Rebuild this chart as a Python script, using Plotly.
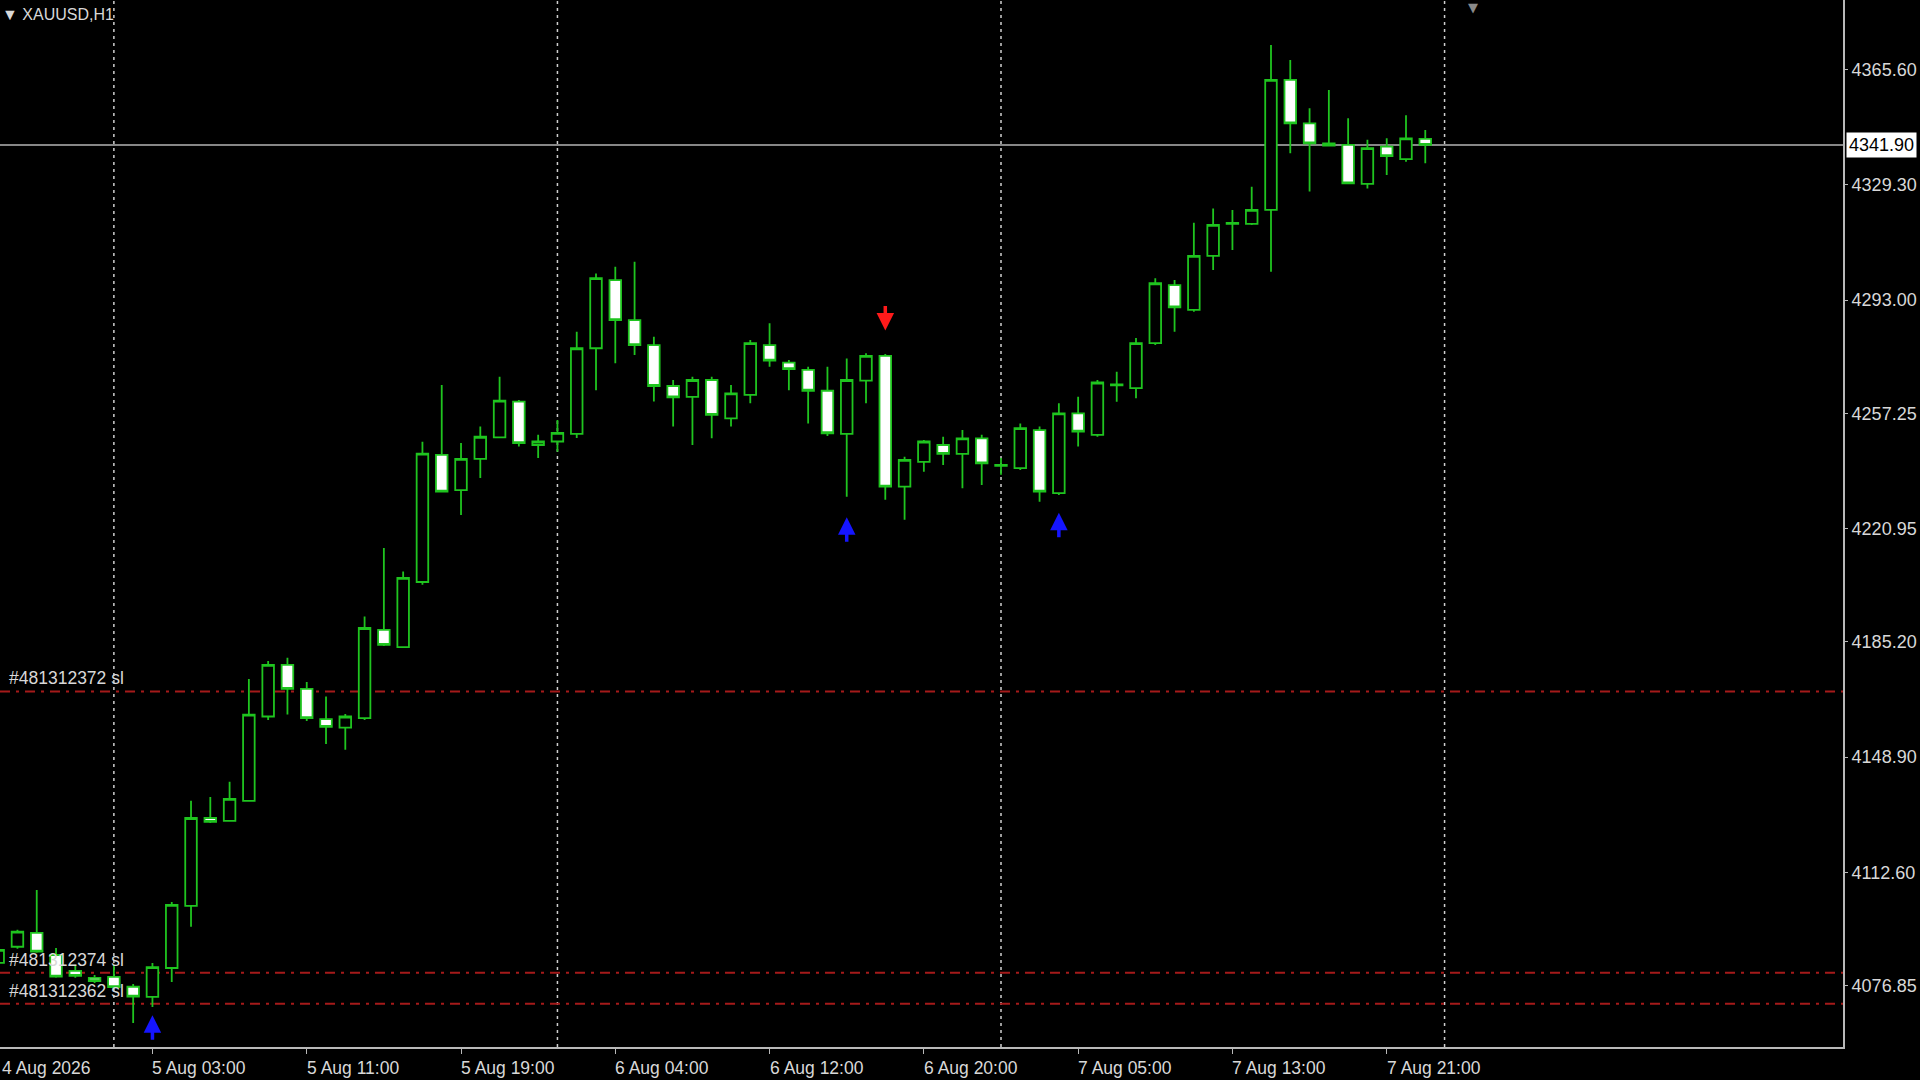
import plotly.graph_objects as go

# ---------------- data ----------------
bar_index = list(range(75))  # hourly bars, 4 Aug 18:00 ... 7 Aug 23:00

opens = [4084.0, 4089.1, 4093.5, 4086.5, 4081.5, 4079.3, 4079.6, 4076.5, 4073.3, 4082.4,
         4102.0, 4129.7, 4128.8, 4135.1, 4161.7, 4178.0, 4170.4, 4160.9, 4158.2, 4161.2,
         4189.0, 4183.6, 4204.1, 4244.2, 4233.1, 4242.9, 4249.7, 4261.0, 4247.3, 4248.4,
         4250.8, 4277.8, 4299.3, 4286.7, 4278.8, 4265.9, 4262.5, 4267.8, 4255.7, 4263.1,
         4278.8, 4273.3, 4271.0, 4264.4, 4250.8, 4267.6, 4275.4, 4234.2, 4242.0, 4247.3,
         4244.5, 4249.4, 4240.7, 4240.0, 4252.0, 4232.1, 4257.3, 4250.5, 4266.1, 4265.2,
         4279.4, 4297.7, 4289.9, 4306.9, 4317.0, 4317.0, 4321.4, 4362.4, 4348.7, 4342.4,
         4341.9, 4329.6, 4341.4, 4337.4, 4343.8]
highs = [4089.7, 4094.5, 4107.0, 4088.7, 4083.4, 4080.2, 4083.4, 4077.4, 4084.0, 4103.2,
         4135.1, 4136.3, 4141.1, 4173.5, 4179.2, 4180.2, 4172.6, 4168.0, 4162.5, 4193.2,
         4214.8, 4207.4, 4248.3, 4266.2, 4247.9, 4253.1, 4268.8, 4261.5, 4250.5, 4255.2,
         4283.0, 4301.4, 4303.5, 4305.1, 4281.4, 4267.8, 4268.8, 4268.8, 4266.2, 4280.4,
         4285.7, 4274.1, 4272.0, 4272.0, 4274.6, 4276.2, 4276.0, 4243.6, 4248.9, 4249.9,
         4252.0, 4250.5, 4243.2, 4254.1, 4253.1, 4260.5, 4262.5, 4267.8, 4270.4, 4281.0,
         4299.9, 4299.3, 4317.4, 4321.9, 4321.4, 4328.7, 4373.4, 4368.7, 4353.5, 4359.2,
         4350.3, 4343.5, 4344.0, 4351.3, 4346.6]
lows = [4082.4, 4088.5, 4087.2, 4079.3, 4079.3, 4077.7, 4076.1, 4065.1, 4070.1, 4078.0,
        4095.4, 4128.1, 4128.5, 4134.8, 4160.6, 4162.3, 4160.3, 4153.0, 4151.2, 4160.6,
        4183.9, 4183.3, 4203.2, 4232.5, 4225.2, 4236.9, 4249.5, 4246.8, 4243.2, 4245.2,
        4249.5, 4264.6, 4273.1, 4275.7, 4261.0, 4253.1, 4247.3, 4249.4, 4253.1, 4260.5,
        4272.0, 4264.6, 4254.1, 4250.1, 4231.0, 4260.5, 4230.0, 4223.7, 4238.9, 4241.0,
        4233.7, 4234.7, 4237.9, 4239.4, 4229.4, 4231.5, 4246.8, 4249.9, 4260.9, 4262.0,
        4278.8, 4283.0, 4289.3, 4302.5, 4308.8, 4316.7, 4301.9, 4339.3, 4327.2, 4341.4,
        4329.6, 4328.2, 4332.4, 4336.6, 4336.1]
closes = [4088.1, 4093.9, 4087.6, 4079.7, 4079.9, 4078.3, 4076.4, 4073.4, 4082.7, 4102.3,
          4129.7, 4128.5, 4135.7, 4162.3, 4178.0, 4170.4, 4161.2, 4158.4, 4161.7, 4189.6,
          4184.3, 4205.4, 4244.6, 4232.6, 4242.9, 4249.9, 4261.3, 4247.9, 4248.4, 4251.1,
          4277.8, 4299.9, 4286.7, 4278.8, 4265.9, 4262.3, 4267.8, 4256.8, 4263.6, 4279.4,
          4273.9, 4271.2, 4264.4, 4251.0, 4267.8, 4275.4, 4234.2, 4242.6, 4248.4, 4244.5,
          4249.4, 4241.5, 4241.0, 4252.6, 4232.6, 4257.3, 4251.5, 4267.0, 4266.4, 4279.4,
          4298.3, 4290.7, 4306.9, 4316.7, 4317.3, 4321.4, 4362.4, 4348.7, 4342.4, 4341.7,
          4329.8, 4340.9, 4338.4, 4344.0, 4341.9]

tick_index = [0, 8, 16, 24, 32, 40, 48, 56, 64, 72]
tick_labels = ["4 Aug 2026", "5 Aug 03:00", "5 Aug 11:00", "5 Aug 19:00", "6 Aug 04:00",
               "6 Aug 12:00", "6 Aug 20:00", "7 Aug 05:00", "7 Aug 13:00", "7 Aug 21:00"]

price_ticks = [4365.60, 4329.30, 4293.00, 4257.25, 4220.95, 4185.20, 4148.90, 4112.60, 4076.85]
price_tick_labels = ["4365.60", "4329.30", "4293.00", "4257.25", "4220.95",
                     "4185.20", "4148.90", "4112.60", "4076.85"]

current_price = 4341.90
separator_index = [6, 29, 52, 75]  # day separators (01:00 bars)

sl_labels = ["#481312372 sl", "#481312374 sl", "#481312362 sl"]
sl_prices = [4169.6, 4080.9, 4071.1]

buy_arrow_index = [8, 44, 55]
buy_arrow_price = [4067.5, 4224.5, 4225.9]
sell_arrow_index = [46]
sell_arrow_price = [4283.4]

symbol_title = "▼ XAUUSD,H1"

# ---------------- style ----------------
GREEN = "#1fc41f"
TEXT = "#d8d8d8"
AXIS = "#b8b8b8"
FONT = "Liberation Sans, Arial, sans-serif"

X_RANGE = [0.095, 95.66]
Y_RANGE = [4057.5, 4387.6]

fig = go.Figure()

fig.add_trace(go.Candlestick(
    x=bar_index, open=opens, high=highs, low=lows, close=closes,
    increasing=dict(line=dict(color=GREEN, width=1.8), fillcolor="#000000"),
    decreasing=dict(line=dict(color=GREEN, width=1.8), fillcolor="#ffffff"),
    whiskerwidth=0, showlegend=False, hoverinfo="skip",
))

shapes = []
# day separators
for s in separator_index:
    shapes.append(dict(type="line", xref="x", yref="paper", x0=s, x1=s, y0=0, y1=1,
                       line=dict(color="#cfcfcf", width=1.5, dash="3px,4px"), layer="below"))
# stop-loss lines
for p in sl_prices:
    shapes.append(dict(type="line", xref="paper", yref="y", x0=0, x1=1, y0=p, y1=p,
                       line=dict(color="#a51a1a", width=2, dash="10px,6px,3px,6px"), layer="below"))
# current price line
shapes.append(dict(type="line", xref="paper", yref="y", x0=0, x1=1, y0=current_price, y1=current_price,
                   line=dict(color="#b4b4b4", width=1.5), layer="below"))

annotations = []
# x-axis labels (left aligned at the tick, MT4 style)
for i, t in zip(tick_index, tick_labels):
    if i < X_RANGE[0]:
        # first bar sits just off the left edge: anchor the label to the plot edge
        annotations.append(dict(x=0, xref="paper", y=0, yref="paper", text=t, showarrow=False,
                                xanchor="left", yanchor="top", yshift=-9, xshift=0,
                                font=dict(family=FONT, size=17.5, color=TEXT)))
    else:
        annotations.append(dict(x=i, xref="x", y=0, yref="paper", text=t, showarrow=False,
                                xanchor="left", yanchor="top", yshift=-9, xshift=-2,
                                font=dict(family=FONT, size=17.5, color=TEXT)))
# current price label box
annotations.append(dict(x=1, xref="paper", y=current_price, yref="y", text="4341.90",
                        showarrow=False, xanchor="left", yanchor="middle", xshift=3,
                        bgcolor="#ffffff", borderpad=2,
                        font=dict(family=FONT, size=18, color="#000000")))
# stop-loss labels
for lab, p in zip(sl_labels, sl_prices):
    annotations.append(dict(x=0, xref="paper", y=p, yref="y", text=lab, showarrow=False,
                            xanchor="left", yanchor="bottom", xshift=7, yshift=1,
                            font=dict(family=FONT, size=17.5, color=TEXT)))
# title
annotations.append(dict(x=0, xref="paper", y=1, yref="paper", text=symbol_title, showarrow=False,
                        xanchor="left", yanchor="top", xshift=0, yshift=-4,
                        font=dict(family=FONT, size=16, color=TEXT)))
# chart shift marker
annotations.append(dict(x=76.5, xref="x", y=1, yref="paper", text="▼", showarrow=False,
                        xanchor="center", yanchor="top", yshift=2,
                        font=dict(family="DejaVu Sans", size=13, color="#8a8a8a")))
# signal arrows
for i, p in zip(buy_arrow_index, buy_arrow_price):
    annotations.append(dict(x=i, xref="x", y=p, yref="y", text="", showarrow=True,
                            arrowhead=2, arrowsize=1, arrowwidth=3.5, arrowcolor="#1515ff",
                            ax=0, ay=26))
for i, p in zip(sell_arrow_index, sell_arrow_price):
    annotations.append(dict(x=i, xref="x", y=p, yref="y", text="", showarrow=True,
                            arrowhead=2, arrowsize=1, arrowwidth=3.5, arrowcolor="#ff1a1a",
                            ax=0, ay=-26))

fig.update_layout(
    width=1920, height=1080,
    margin=dict(l=0, r=77, t=0, b=33),
    paper_bgcolor="#000000", plot_bgcolor="#000000",
    showlegend=False,
    boxgap=0.4, boxgroupgap=0,
    shapes=shapes, annotations=annotations,
    xaxis=dict(range=X_RANGE, rangeslider=dict(visible=False), showgrid=False, zeroline=False,
               showline=True, linecolor=AXIS, linewidth=2,
               tickmode="array", tickvals=tick_index, ticks="outside", ticklen=5,
               tickcolor=AXIS, showticklabels=False, fixedrange=True),
    yaxis=dict(range=Y_RANGE, side="right", showgrid=False, zeroline=False,
               showline=True, linecolor=AXIS, linewidth=2,
               tickmode="array", tickvals=price_ticks, ticktext=price_tick_labels,
               ticks="outside", ticklen=3, tickcolor=AXIS,
               tickfont=dict(family=FONT, size=18, color=TEXT), fixedrange=True),
)

fig.write_html("out.html", config={"displayModeBar": False},
               post_script="document.body.style.margin='0';document.body.style.overflow='hidden';")
